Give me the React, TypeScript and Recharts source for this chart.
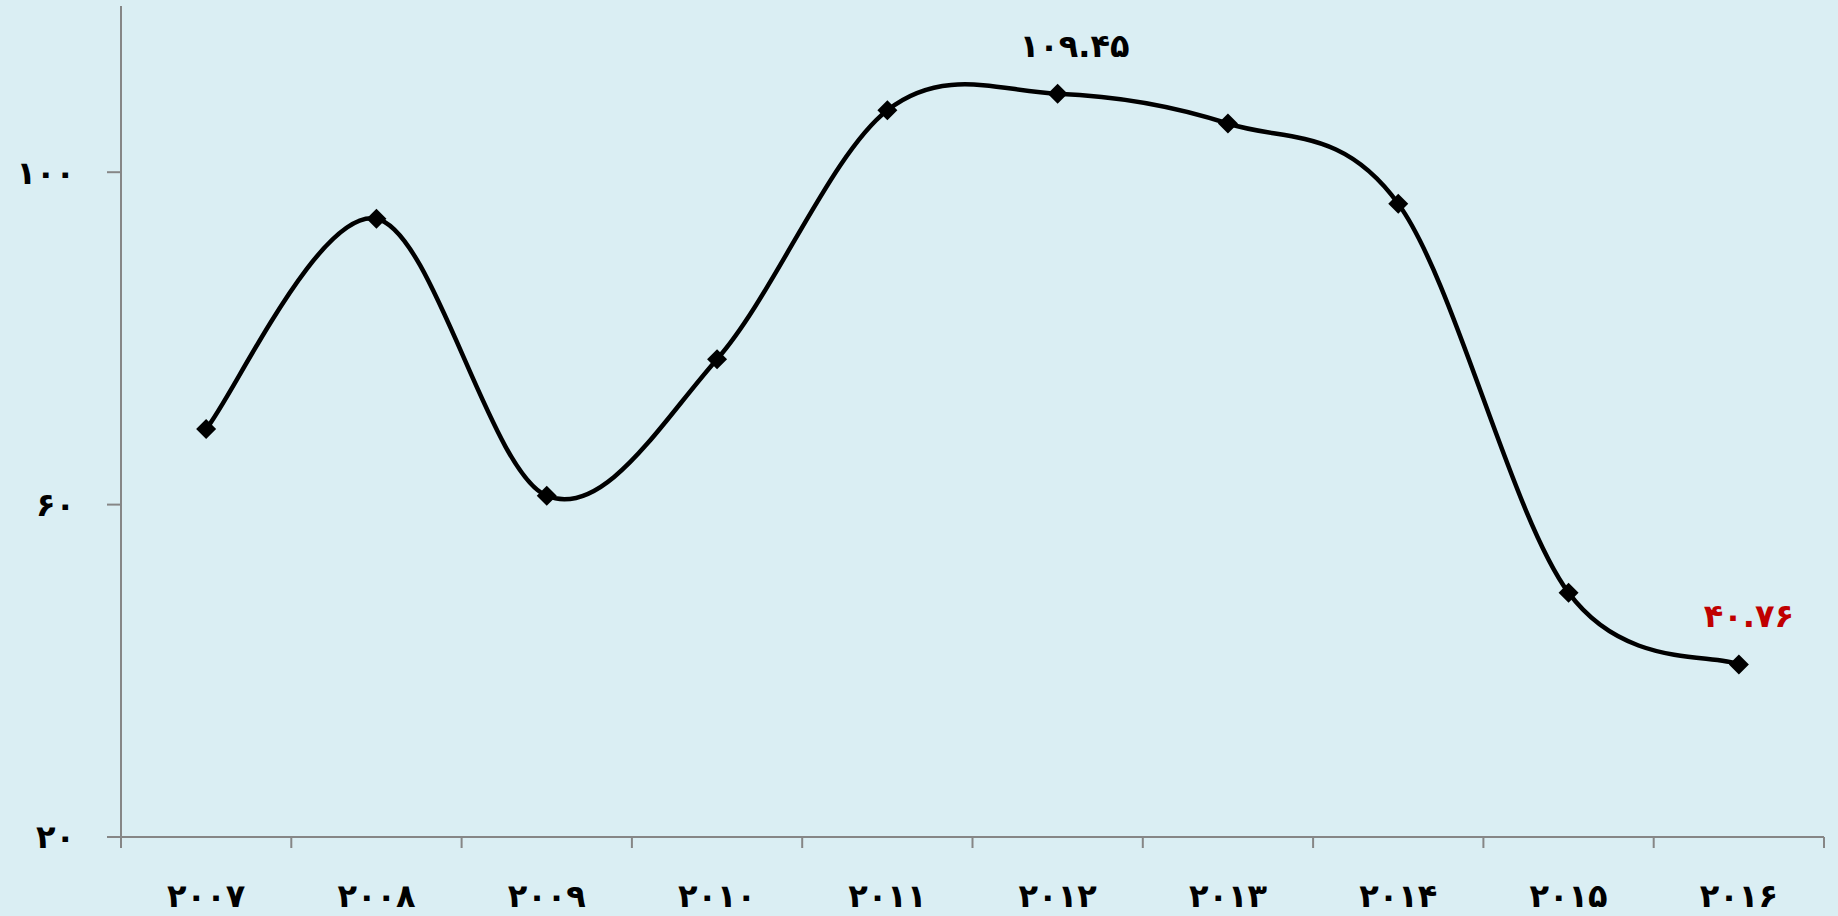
import { CartesianGrid, LabelList, Line, LineChart, XAxis, YAxis } from "recharts";

const years = ["2007", "2008", "2009", "2010", "2011", "2012", "2013", "2014", "2015", "2016"];
const values = [69.1, 94.4, 61.06, 77.5, 107.46, 109.45, 105.86, 96.2, 49.4, 40.76];
const yTicks = [20, 60, 100];
const labelledYears = ["2012", "2016"];

const data = years.map((year, i) => ({ year, value: values[i] }));

const FONT = "'DejaVu Sans', sans-serif";
const AXIS = "#868686";
const BG = "#DAEEF3";

const faDigits = "۰۱۲۳۴۵۶۷۸۹";
const toFa = (s: string | number) => String(s).replace(/[0-9]/g, (d) => faDigits[Number(d)]);

// Excel-style smoothing: uniform Catmull-Rom as cubic beziers
function excelSmooth(context: any) {
  let pts: number[][] = [];
  return {
    areaStart() {},
    areaEnd() {},
    lineStart() {
      pts = [];
    },
    lineEnd() {
      const n = pts.length;
      if (!n) return;
      context.moveTo(pts[0][0], pts[0][1]);
      for (let i = 0; i < n - 1; i++) {
        const p0 = pts[Math.max(i - 1, 0)];
        const p1 = pts[i];
        const p2 = pts[i + 1];
        const p3 = pts[Math.min(i + 2, n - 1)];
        context.bezierCurveTo(
          p1[0] + (p2[0] - p0[0]) / 6,
          p1[1] + (p2[1] - p0[1]) / 6,
          p2[0] - (p3[0] - p1[0]) / 6,
          p2[1] - (p3[1] - p1[1]) / 6,
          p2[0],
          p2[1],
        );
      }
    },
    point(x: number, y: number) {
      pts.push([+x, +y]);
    },
  };
}

function Diamond({ cx, cy }: any) {
  if (cx == null || cy == null) return null;
  const r = 10;
  return (
    <polygon
      points={`${cx},${cy - r} ${cx + r},${cy} ${cx},${cy + r} ${cx - r},${cy}`}
      fill="#000"
    />
  );
}

function YearTick(props: any) {
  const { x, y, payload, index, visibleTicksCount, width } = props;
  const half = payload.offset || width / visibleTicksCount / 2;
  const last = index === visibleTicksCount - 1;
  return (
    <g>
      <line x1={x - half} x2={x - half} y1={y - 11} y2={y} stroke={AXIS} strokeWidth={2} />
      {last && <line x1={x + half} x2={x + half} y1={y - 11} y2={y} stroke={AXIS} strokeWidth={2} />}
      <text x={x} y={y + 59} textAnchor="middle" fontFamily={FONT} fontWeight="bold" fontSize={32} fill="#000">
        {toFa(payload.value)}
      </text>
    </g>
  );
}

function PointLabel(props: any) {
  const { x, y, index } = props;
  const year = years[index];
  if (!labelledYears.includes(year)) return null;
  const red = year === "2016";
  return (
    <text
      x={x + (red ? 10 : 17)}
      y={y - 37}
      textAnchor="middle"
      fontFamily={FONT}
      fontWeight="bold"
      fontSize={32}
      fill={red ? "#C00000" : "#000"}
    >
      {toFa(values[index].toFixed(2))}
    </text>
  );
}

export default function App() {
  return (
    <div style={{ position: "absolute", left: 0, top: 0, width: 1838, height: 916, background: BG }}>
      <LineChart width={1838} height={916} data={data} margin={{ top: 6, right: 14, bottom: 0, left: 0 }}>
        <CartesianGrid stroke="none" />
        <XAxis
          dataKey="year"
          scale="band"
          interval={0}
          height={79}
          tickSize={11}
          tickMargin={0}
          tickLine={false}
          axisLine={{ stroke: AXIS, strokeWidth: 2 }}
          tick={<YearTick />}
        />
        <YAxis
          domain={[20, 120]}
          ticks={yTicks}
          width={121}
          tickSize={14}
          tickMargin={32}
          axisLine={{ stroke: AXIS, strokeWidth: 2 }}
          tickLine={{ stroke: AXIS, strokeWidth: 2 }}
          tickFormatter={(v: number) => toFa(v)}
          tick={{ fill: "#000", fontSize: 32, fontWeight: "bold", fontFamily: FONT }}
        />
        <Line
          dataKey="value"
          type={excelSmooth as any}
          stroke="#000"
          strokeWidth={4.5}
          dot={<Diamond />}
          activeDot={false}
          isAnimationActive={false}
        >
          <LabelList dataKey="value" content={<PointLabel />} />
        </Line>
      </LineChart>
    </div>
  );
}
